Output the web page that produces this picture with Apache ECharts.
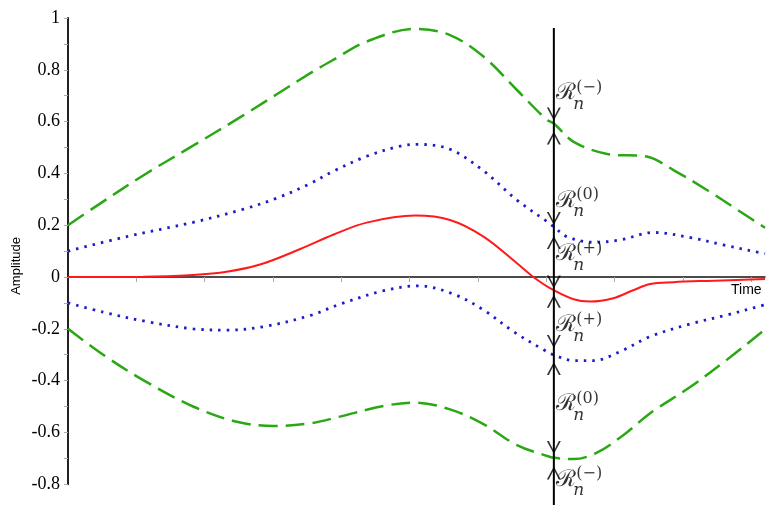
<!DOCTYPE html>
<html>
<head>
<meta charset="utf-8">
<script src="https://cdn.jsdelivr.net/npm/echarts@6/dist/echarts.min.js"></script>
<style>html,body{margin:0;padding:0;background:#fff}#c{width:771px;height:513px}</style>
</head>
<body>
<div id="c"></div>
<script>
// ---- data (time, amplitude) ----
const greenUpper = [[0,0.2],[0.37,0.266],[1.10,0.392],[1.83,0.507],[2.57,0.625],[3.54,0.786],[3.88,0.838],[4.37,0.909],[5.08,0.958],[5.59,0.934],[6.08,0.851],[6.57,0.722],[7.01,0.606],[7.11,0.593],[7.40,0.522],[7.89,0.475],[8.47,0.465],[8.86,0.413],[9.35,0.336],[9.84,0.252],[10.2,0.19]];
const blueUpper = [[0,0.1],[0.86,0.156],[1.83,0.211],[2.57,0.262],[3.06,0.305],[3.54,0.36],[3.88,0.408],[4.37,0.466],[4.86,0.505],[5.13,0.512],[5.59,0.493],[6.08,0.41],[6.57,0.297],[7.01,0.214],[7.11,0.194],[7.30,0.156],[7.69,0.134],[8.08,0.143],[8.57,0.172],[9.11,0.152],[9.59,0.124],[10.13,0.094],[10.2,0.09]];
const redCurve = [[0,0],[1.1,0.001],[1.83,0.008],[2.32,0.02],[2.81,0.048],[3.4,0.108],[3.88,0.163],[4.37,0.21],[5.08,0.237],[5.59,0.22],[6.08,0.156],[6.57,0.053],[6.81,0],[7.06,-0.044],[7.40,-0.086],[7.64,-0.095],[7.98,-0.082],[8.28,-0.05],[8.52,-0.027],[8.86,-0.02],[9.35,-0.015],[10.2,-0.008]];
const blueLower = [[0,-0.1],[0.52,-0.136],[1.15,-0.172],[1.83,-0.2],[2.32,-0.205],[2.86,-0.192],[3.54,-0.149],[3.98,-0.105],[4.62,-0.053],[5.13,-0.034],[5.64,-0.066],[6.08,-0.127],[6.52,-0.211],[6.98,-0.284],[7.11,-0.301],[7.40,-0.323],[7.69,-0.323],[8.08,-0.288],[8.52,-0.23],[9.11,-0.181],[9.64,-0.147],[10.13,-0.112],[10.2,-0.108]];
const greenLower = [[0,-0.2],[0.52,-0.301],[1.10,-0.398],[1.83,-0.5],[2.47,-0.559],[3.01,-0.575],[3.54,-0.565],[3.98,-0.539],[4.62,-0.498],[5.08,-0.485],[5.59,-0.511],[6.08,-0.568],[6.57,-0.649],[7.01,-0.691],[7.11,-0.698],[7.40,-0.703],[7.74,-0.678],[8.13,-0.61],[8.52,-0.526],[9.11,-0.424],[9.64,-0.32],[10.13,-0.217],[10.2,-0.2]];

// vertical marker at time tMark
const tMark = 7.11;
const markSpan = [0.961, -0.88];
const arrowDownTips = [0.604, 0.201, -0.044, -0.274, -0.683];
const arrowUpTips = [0.562, 0.158, -0.069, -0.328, -0.732];
const regionLabelY = [0.707, 0.293, 0.085, -0.189, -0.494, -0.784];
const regionLabelSup = ['(−)', '(0)', '(+)', '(+)', '(0)', '(−)'];

const yTicks = { min: -0.8, max: 1, step: 0.2 };
const xTickValues = [1,2,3,4,5,6,7,8,9,10];

const chart = echarts.init(document.getElementById('c'), null, {renderer: 'canvas'});

const vPath = 'path://M0 0L2 0L7 10L12 0L14 0L7 13Z';
const aPath = 'path://M0 13L2 13L7 3L12 13L14 13L7 0Z';

function labelSeries(textFn, offset, style) {
  return {
    type: 'scatter', silent: true, z: 10,
    symbolSize: 1, itemStyle: {color: 'rgba(0,0,0,0)'},
    data: regionLabelY.map(v => [tMark, v]),
    label: Object.assign({
      show: true, position: offset, align: 'left', verticalAlign: 'middle',
      formatter: p => textFn(p.dataIndex), color: '#000'
    }, style)
  };
}

const option = {
  animation: false,
  grid: {left: 68, right: 6, top: 18, bottom: 28.8, containLabel: false},
  xAxis: {
    type: 'value', min: 0, max: 10.2,
    axisLine: {onZero: true, lineStyle: {color: '#111', width: 1.5}},
    axisTick: {show: true, length: 5, customValues: xTickValues, lineStyle: {color: '#aaa'}},
    axisLabel: {show: false},
    splitLine: {show: false}
  },
  yAxis: {
    type: 'value', min: yTicks.min, max: yTicks.max, interval: yTicks.step,
    axisLine: {show: true, onZero: false, lineStyle: {color: '#222', width: 2}},
    axisTick: {show: true, length: 4, lineStyle: {color: '#aaa'}},
    minorTick: {show: true, splitNumber: 2, length: 4, lineStyle: {color: '#aaa'}},
    axisLabel: {color: '#000', fontFamily: 'Liberation Serif', fontSize: 18, margin: 8},
    splitLine: {show: false}
  },
  graphic: [
    {type: 'text', left: 10, top: 237, rotation: Math.PI/2,
     style: {text: 'Amplitude', font: '13px "Liberation Sans"', fill: '#000'}},
    {type: 'text', left: 731, top: 283,
     style: {text: 'Time', font: '14px "Liberation Sans"', fill: '#000'}}
  ],
  series: [
    {type: 'line', data: greenUpper, smooth: 0.35, symbol: 'none',
     lineStyle: {color: '#2aa814', width: 2.5, type: [19, 8]}},
    {type: 'line', data: greenLower, smooth: 0.35, symbol: 'none',
     lineStyle: {color: '#2aa814', width: 2.5, type: [19, 8]}},
    {type: 'line', data: blueUpper, smooth: 0.35, symbol: 'none',
     lineStyle: {color: '#1c1cc8', width: 2.8, type: [2.5, 6]}},
    {type: 'line', data: blueLower, smooth: 0.35, symbol: 'none',
     lineStyle: {color: '#1c1cc8', width: 2.8, type: [2.5, 6]}},
    {type: 'line', data: redCurve, smooth: 0.35, symbol: 'none',
     lineStyle: {color: '#ff1a1a', width: 2}},
    {type: 'line', data: markSpan.map(v => [tMark, v]), symbol: 'none', clip: false, z: 5,
     lineStyle: {color: '#000', width: 2}},
    {type: 'scatter', data: arrowDownTips.map(v => [tMark, v]), symbol: vPath,
     symbolSize: [14, 13], symbolOffset: [0, '-50%'], itemStyle: {color: '#000'}, z: 6, silent: true},
    {type: 'scatter', data: arrowUpTips.map(v => [tMark, v]), symbol: aPath,
     symbolSize: [14, 13], symbolOffset: [0, '50%'], itemStyle: {color: '#000'}, z: 6, silent: true},
    labelSeries(() => 'ℛ', [3, 0], {fontFamily: 'DejaVu Serif', fontSize: 23}),
    labelSeries(i => regionLabelSup[i], [23, -6], {fontFamily: 'DejaVu Serif', fontSize: 16}),
    labelSeries(() => 'n', [20, 11], {fontFamily: 'DejaVu Serif', fontStyle: 'italic', fontSize: 17})
  ]
};
chart.setOption(option);
</script>
</body>
</html>
